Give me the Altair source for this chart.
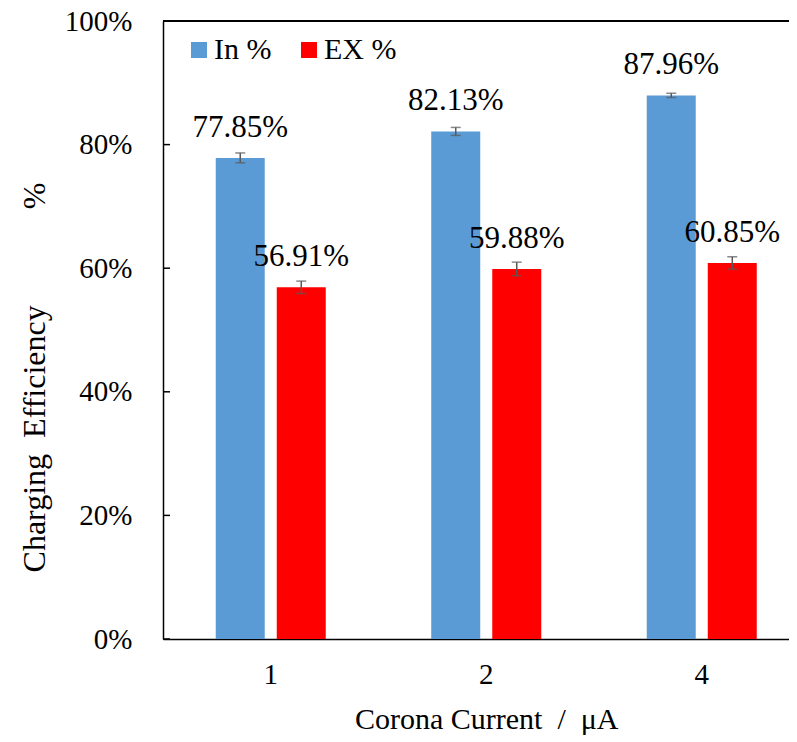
import altair as alt
import pandas as pd

categories = ["1", "2", "4"]
series = ["In %", "EX %"]
in_values = [77.85, 82.13, 87.96]
ex_values = [56.91, 59.88, 60.85]
in_errors = [0.8, 0.65, 0.35]
ex_errors = [1.0, 1.1, 1.0]
y_ticks = [0, 20, 40, 60, 80, 100]
colors = ["#5B9BD5", "#FF0000"]

NB = "\u00a0"
x_title = f"Corona Current{NB}{NB}/{NB}{NB}μA"
y_title = f"Charging{NB * 2}Efficiency{NB * 12}%"

rows = []
for c, v, e in zip(categories, in_values, in_errors):
    rows.append({"cat": c, "series": "In %", "value": v, "lo": v - e, "hi": v + e, "label": f"{v:.2f}%"})
for c, v, e in zip(categories, ex_values, ex_errors):
    rows.append({"cat": c, "series": "EX %", "value": v, "lo": v - e, "hi": v + e, "label": f"{v:.2f}%"})
df = pd.DataFrame(rows)
ticks_df = pd.DataFrame({"t": y_ticks})

FONT = "Liberation Serif"
W, H = 626, 618

xscale = alt.Scale(domain=categories, range=[0, 646.5], paddingInner=0.434, paddingOuter=0.217)
xoff = alt.XOffset("series:N", sort=series, scale=alt.Scale(domain=series, paddingInner=0.197, paddingOuter=0.098))
yscale = alt.Scale(domain=[0, 100], nice=False)

base = alt.Chart(df)

bars = base.mark_bar().encode(
    x=alt.X("cat:N", sort=categories, scale=xscale,
            axis=alt.Axis(title=x_title, labelAngle=0, ticks=False, tickSize=0,
                          labelPadding=21, titlePadding=15, domainColor="black", domainWidth=1.5,
                          labelFont=FONT, labelFontSize=29, labelColor="black", titleFont=FONT,
                          titleFontSize=30, titleFontWeight="normal", titleColor="black")),
    xOffset=xoff,
    y=alt.Y("value:Q", scale=yscale,
            axis=alt.Axis(title=y_title, values=y_ticks, labelExpr="datum.value + '%'",
                          ticks=False, tickSize=0, labelPadding=31, titlePadding=13, grid=False,
                          titleY=356,
                          domainColor="black", domainWidth=1.5, labelFont=FONT, labelFontSize=29,
                          labelColor="black", titleFont=FONT, titleFontSize=32, titleFontWeight="normal",
                          titleColor="black")),
    color=alt.Color("series:N", sort=series, scale=alt.Scale(domain=series, range=colors),
                    legend=alt.Legend(title=None, orient="none", legendX=21, legendY=14, direction="horizontal",
                                      symbolType="square", symbolSize=256, symbolStrokeWidth=0,
                                      labelFont=FONT, labelFontSize=30, labelColor="black",
                                      labelOffset=0, columnPadding=22, padding=0)),
)

err = base.mark_rule(color="#595959", strokeWidth=1.5).encode(
    x=alt.X("cat:N", sort=categories, scale=xscale), xOffset=xoff,
    y=alt.Y("lo:Q", scale=yscale), y2="hi:Q",
)
caps_lo = base.mark_tick(color="#595959", orient="horizontal", size=10, thickness=1.5).encode(
    x=alt.X("cat:N", sort=categories, scale=xscale), xOffset=xoff,
    y=alt.Y("lo:Q", scale=yscale),
)
caps_hi = base.mark_tick(color="#595959", orient="horizontal", size=10, thickness=1.5).encode(
    x=alt.X("cat:N", sort=categories, scale=xscale), xOffset=xoff,
    y=alt.Y("hi:Q", scale=yscale),
)
labels = base.mark_text(font=FONT, fontSize=31, color="black", dy=-21, baseline="alphabetic").encode(
    x=alt.X("cat:N", sort=categories, scale=xscale), xOffset=xoff,
    y=alt.Y("value:Q", scale=yscale),
    text="label:N",
)
inner_ticks = alt.Chart(ticks_df).mark_rule(color="black", strokeWidth=1.5).encode(
    y=alt.Y("t:Q", scale=yscale), x=alt.value(0), x2=alt.value(7),
)
top_line = alt.Chart(ticks_df).mark_rule(color="black", strokeWidth=1.5).encode(
    y=alt.value(0), x=alt.value(0), x2=alt.value(W),
)

chart = alt.layer(bars, err, caps_lo, caps_hi, labels, inner_ticks, top_line).properties(
    width=W, height=H,
    autosize=alt.AutoSizeParams(type="none"),
    padding={"left": 155, "top": 13, "right": 0, "bottom": 100},
).configure_view(stroke=None).configure(font=FONT)

chart.save("out.html", embed_options={"renderer": "svg", "actions": False})
